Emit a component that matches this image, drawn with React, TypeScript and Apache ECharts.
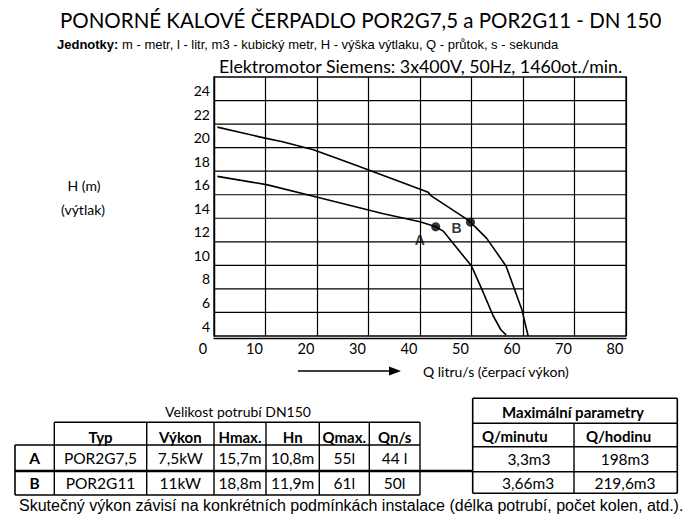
import React, { useEffect, useRef } from 'react';
import * as echarts from 'echarts';

// ---- chart data (Q l/s, H m) ----
const curveA: [number, number][] = [
  [0.65, 17.56], [10.2, 16.86], [19.3, 15.87], [29.6, 14.74], [32.9, 14.38], [40.0, 13.7],
  [43.05, 13.28], [44.5, 12.91], [50.0, 9.95], [52.0, 7.98], [54.2, 5.72], [55.7, 4.53], [56.7, 4.1],
];
const curveB: [number, number][] = [
  [0.65, 21.74], [9.9, 20.81], [13.1, 20.52], [19.3, 19.82], [27.7, 18.49], [41.6, 16.21],
  [42.1, 15.93], [48.7, 14.04], [49.8, 13.67], [52.95, 12.29], [56.7, 9.95], [59.75, 6.28], [61.0, 4.0],
];
const pointA: [number, number] = [43.05, 13.28];
const pointB: [number, number] = [49.8, 13.67];
const pointNames = ['A', 'B'];
const hGridY = [6, 8, 10, 12, 14, 16, 18, 20, 22, 24];
const hGridEndX = [80, 60, 80, 80, 80, 80, 80, 80, 80, 80];

// ---- texts ----
const titleText = 'PONORNÉ KALOVÉ ČERPADLO POR2G7,5 a POR2G11 - DN 150';
const unitsBold = 'Jednotky:';
const unitsText = ' m - metr, l - litr, m3 - kubický metr, H - výška výtlaku, Q - průtok, s - sekunda';
const motorText = 'Elektromotor Siemens: 3x400V, 50Hz, 1460ot./min.';
const yName1 = 'H (m)';
const yName2 = '(výtlak)';
const xName = 'Q litru/s (čerpací výkon)';
const footText = 'Skutečný výkon závisí na konkrétních podmínkách instalace (délka potrubí, počet kolen, atd.).';

// ---- table data ----
const pipeCaption = 'Velikost potrubí DN150';
const tableHeaders = ['Typ', 'Výkon', 'Hmax.', 'Hn', 'Qmax.', 'Qn/s'];
const rowLabels = ['A', 'B'];
const rowA = ['POR2G7,5', '7,5kW', '15,7m', '10,8m', '55l', '44 l'];
const rowB = ['POR2G11', '11kW', '18,8m', '11,9m', '61l', '50l'];
const maxCaption = 'Maximální parametry';
const maxHeaders = ['Q/minutu', 'Q/hodinu'];
const maxA = ['3,3m3', '198m3'];
const maxB = ['3,66m3', '219,6m3'];

const CAL = 'Lato, "Open Sans", sans-serif';
const ARIAL = '"Liberation Sans", Arial, sans-serif';

function txt(text: string, x: number, y: number, size: number, opts: any = {}) {
  return {
    type: 'text',
    x,
    y,
    silent: true,
    style: {
      text,
      fontSize: size,
      fontFamily: opts.family || CAL,
      fontWeight: opts.bold ? 'bold' : 'normal',
      fill: '#000',
      align: opts.align || 'center',
      textAlign: opts.align || 'center',
      verticalAlign: 'middle',
      textVerticalAlign: 'middle',
      rich: opts.rich,
    },
  };
}

function ln(x1: number, y1: number, x2: number, y2: number, w = 1.4) {
  return {
    type: 'line',
    silent: true,
    shape: { x1, y1, x2, y2 },
    style: { stroke: '#000', lineWidth: w },
  };
}

export default function App() {
  const ref = useRef<HTMLDivElement>(null);

  useEffect(() => {
    if (!ref.current) return;
    const chart = echarts.init(ref.current, undefined, { renderer: 'svg' });

    const graphics: any[] = [];
    // titles
    graphics.push(txt(titleText, 60, 20, 20.5, { align: 'left' }));
    graphics.push({
      type: 'text', x: 57, y: 44, silent: true,
      style: {
        text: '{b|' + unitsBold + '}' + unitsText,
        fontSize: 13, fontFamily: ARIAL, fill: '#000',
        align: 'left', textAlign: 'left', verticalAlign: 'middle', textVerticalAlign: 'middle',
        rich: { b: { fontWeight: 'bold', fontSize: 13, fontFamily: ARIAL, fill: '#000' } },
      },
    });
    graphics.push(txt(motorText, 219, 66, 17.8, { align: 'left' }));
    // y axis name
    graphics.push(txt(yName1, 84, 185, 14));
    graphics.push(txt(yName2, 83, 209.5, 14));
    // x axis name and arrow
    graphics.push(txt(xName, 423, 371, 14, { align: 'left' }));
    graphics.push(ln(298, 371, 392, 371, 1.4));
    graphics.push({
      type: 'polygon', silent: true,
      shape: { points: [[389, 366.5], [401, 371], [389, 375.5]] },
      style: { fill: '#000' },
    });

    // left table
    const colX = [15, 54.3, 146.7, 214, 266, 319.3, 369.3, 420];
    const rowY = [422.3, 445, 471, 495];
    graphics.push(txt(pipeCaption, 238, 411.5, 14));
    graphics.push(ln(colX[1], rowY[0], colX[7], rowY[0], 1.6));
    graphics.push(ln(colX[0], rowY[1], colX[7], rowY[1], 1.6));
    graphics.push(ln(colX[0], rowY[2], 473, rowY[2], 2.6));
    graphics.push(ln(colX[0], rowY[3], colX[7], rowY[3], 1.4));
    graphics.push(ln(colX[0], rowY[1], colX[0], rowY[3], 1.6));
    for (let i = 1; i < colX.length; i++) {
      graphics.push(ln(colX[i], rowY[0], colX[i], rowY[3], 1.4));
    }
    const centers = colX.slice(0, -1).map((x, i) => (x + colX[i + 1]) / 2);
    tableHeaders.forEach((h, i) => graphics.push(txt(h, centers[i + 1], 437.3, 15, { bold: true })));
    [rowA, rowB].forEach((row, r) => {
      const y = r === 0 ? 458.3 : 483.3;
      graphics.push(txt(rowLabels[r], centers[0], y, 15.5, { bold: true }));
      row.forEach((v, i) => graphics.push(txt(v, centers[i + 1], y, 15.5)));
    });

    // right table
    const rX = [472.7, 574, 677.3];
    const rY = [398.3, 423.3, 446.7, 471.7, 493.3];
    rY.forEach((y, i) => graphics.push(ln(rX[0], y, rX[2], y, i === 3 ? 1.6 : 1.4)));
    graphics.push(ln(rX[0], rY[0], rX[0], rY[4], 1.6));
    graphics.push(ln(rX[2], rY[0], rX[2], rY[4], 1.6));
    graphics.push(ln(rX[1], rY[1], rX[1], rY[4], 1.4));
    graphics.push(txt(maxCaption, 573, 411.5, 15, { bold: true }));
    graphics.push(txt(maxHeaders[0], 482, 435.5, 15, { bold: true, align: 'left' }));
    graphics.push(txt(maxHeaders[1], 586, 435.5, 15, { bold: true, align: 'left' }));
    graphics.push(txt(maxA[0], 529, 459.3, 15.5));
    graphics.push(txt(maxA[1], 625, 459.3, 15.5));
    graphics.push(txt(maxB[0], 528, 482.7, 15.5));
    graphics.push(txt(maxB[1], 625, 482.7, 15.5));

    // footnote
    graphics.push(txt(footText, 19, 505, 16, { family: ARIAL, align: 'left' }));

    const gridSeries = hGridY.map((y, i) => ({
      type: 'line',
      data: [[0, y], [hGridEndX[i], y]],
      symbol: 'none',
      silent: true,
      z: 1,
      lineStyle: { color: '#000', width: 1.2 },
    }));

    chart.setOption({
      animation: false,
      backgroundColor: '#fff',
      grid: {
        left: 214, right: 74, top: 77, bottom: 191,
        show: true, borderColor: '#000', borderWidth: 1.3, backgroundColor: 'transparent',
      },
      xAxis: {
        type: 'value', min: 0, max: 80, interval: 10, offset: 2,
        axisLine: { show: true, lineStyle: { color: '#000', width: 1.3 } },
        axisTick: { show: false },
        splitLine: { show: true, lineStyle: { color: '#000', width: 1.2 } },
        axisLabel: {
          color: '#000', fontFamily: CAL, fontSize: 14.5, margin: 3,
          padding: [0, 22, 0, 0], showMinLabel: true, showMaxLabel: true,
        },
      },
      yAxis: {
        type: 'value', min: 4, max: 26, interval: 2, offset: 3,
        axisLine: { show: true, lineStyle: { color: '#000', width: 1.3 } },
        axisTick: { show: false },
        splitLine: { show: false },
        axisLabel: {
          color: '#000', fontFamily: CAL, fontSize: 14, margin: 1,
          verticalAlign: 'bottom', lineHeight: 20,
          showMinLabel: true, showMaxLabel: true,
          formatter: (v: number) => (v === 26 ? '' : String(v)),
        },
      },
      series: [
        ...gridSeries,
        {
          type: 'line', data: curveB, symbol: 'none', silent: true, z: 3,
          lineStyle: { color: '#000', width: 1.6 },
        },
        {
          type: 'line', data: curveA, symbol: 'none', silent: true, z: 3,
          lineStyle: { color: '#000', width: 1.6 },
        },
        {
          type: 'scatter', symbolSize: 9, silent: true, z: 4,
          itemStyle: { color: '#000' },
          data: [
            { value: pointA, name: pointNames[0], label: { offset: [-16, 13] } },
            { value: pointB, name: pointNames[1], label: { offset: [-14, 6] } },
          ],
          label: {
            show: true, position: 'inside', formatter: (p: any) => p.name,
            color: '#000', fontFamily: ARIAL, fontWeight: 'bold', fontSize: 14,
          },
        },
      ],
      graphic: graphics,
    });

    return () => chart.dispose();
  }, []);

  return (
    <div
      ref={ref}
      style={{ position: 'fixed', left: 0, top: 0, width: 700, height: 527, background: '#fff' }}
    />
  );
}
